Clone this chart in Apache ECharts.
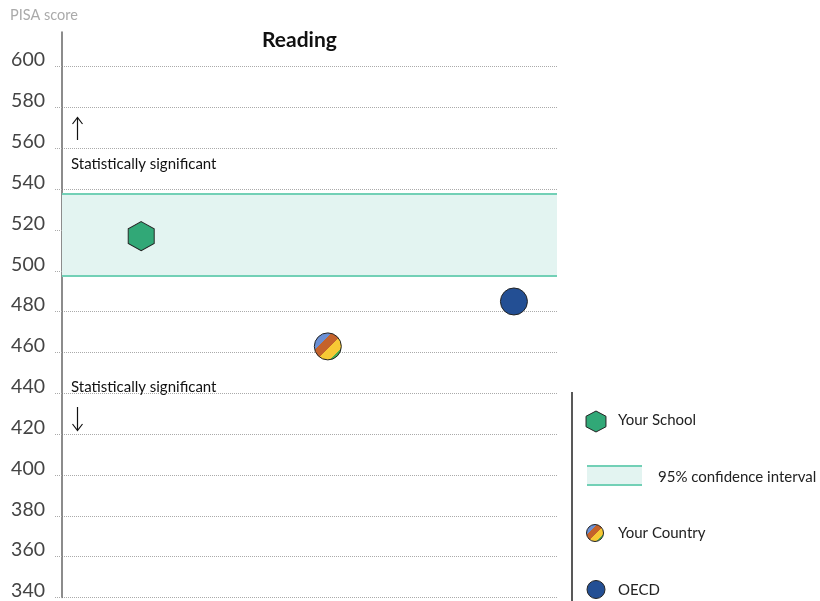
<!DOCTYPE html>
<html>
<head>
<meta charset="utf-8">
<script src="https://cdn.jsdelivr.net/npm/echarts@6/dist/echarts.min.js"></script>
<style>
  html, body { margin: 0; padding: 0; background: #fff; }
  #chart { width: 820px; height: 601px; }
</style>
</head>
<body>
<div id="chart"></div>
<script>
(function () {
  // 数据
  var names = ["Your School", "Your Country", "OECD"];
  var scores = [517, 463, 485];
  var xPos = [1.6, 5.37, 9.13];
  var ciLow = 497.5;
  var ciHigh = 538;
  var yTicks = [340, 360, 380, 400, 420, 440, 460, 480, 500, 520, 540, 560, 580, 600];

  var hexPath = "path://M0,-1L0.866,-0.5L0.866,0.5L0,1L-0.866,0.5L-0.866,-0.5Z";
  // 条纹圆点用硬边渐变
  var stripes = {
    type: "linear", x: 0, y: 0, x2: 1, y2: 1,
    colorStops: [
      { offset: 0, color: "#6b8fd3" }, { offset: 0.32, color: "#6b8fd3" },
      { offset: 0.32, color: "#c4622b" }, { offset: 0.54, color: "#c4622b" },
      { offset: 0.54, color: "#f7c935" }, { offset: 0.77, color: "#f7c935" },
      { offset: 0.77, color: "#4daf4e" }, { offset: 1, color: "#4daf4e" }
    ]
  };
  var styles = [
    { symbol: hexPath, size: [26, 29], color: "#31a877" },
    { symbol: "circle", size: 27, color: stripes },
    { symbol: "circle", size: 27, color: "#234f94" }
  ];

  var font = "Lato, 'Noto Sans', sans-serif";
  var chart = echarts.init(document.getElementById("chart"));

  var series = names.map(function (n, i) {
    return {
      name: n,
      type: "scatter",
      symbol: styles[i].symbol,
      symbolSize: styles[i].size,
      z: 5,
      itemStyle: { color: styles[i].color, borderColor: "#222", borderWidth: 1, opacity: 1 },
      data: [[xPos[i], scores[i]]]
    };
  });

  // 置信区间
  series.push({
    name: "95% confidence interval",
    type: "line",
    data: [],
    markArea: {
      silent: true,
      itemStyle: { color: "#e3f4f1" },
      data: [[{ yAxis: ciLow }, { yAxis: ciHigh }]]
    },
    markLine: {
      silent: true,
      symbol: "none",
      label: { show: false },
      lineStyle: { color: "#72d0b6", width: 2, type: "solid" },
      data: [{ yAxis: ciLow }, { yAxis: ciHigh }]
    }
  });

  function legendText(t) {
    return { text: t, fontFamily: font, fontSize: 15, fill: "#222" };
  }
  // 图例六边形顶点
  var hexPts = [];
  for (var k = 0; k < 6; k++) {
    var a = Math.PI / 3 * k - Math.PI / 2;
    hexPts.push([596 + 11.5 * Math.cos(a), 421.5 + 10.5 * Math.sin(a)]);
  }
  var arrowStyle = { stroke: "#111", lineWidth: 1.2, fill: null };

  var option = {
    animation: false,
    title: [
      { text: "Reading", left: 262, top: 30, padding: 0, textStyle: { fontFamily: font, fontSize: 21, fontWeight: "bold", color: "#111" } },
      { text: "PISA score", left: 10, top: 8, padding: 0, textStyle: { fontFamily: font, fontSize: 14.5, fontWeight: "normal", color: "#aaa" } }
    ],
    grid: { left: 62, right: 263, top: 32, bottom: 0 },
    xAxis: {
      type: "value", min: 0, max: 10,
      axisLine: { show: false }, axisTick: { show: false },
      axisLabel: { show: false }, splitLine: { show: false }
    },
    yAxis: {
      type: "value", min: 340, max: 617, interval: 20,
      axisLine: { show: true, lineStyle: { color: "#666", width: 1.5 } },
      axisTick: { show: true, length: 7, customValues: yTicks, lineStyle: { color: "#aaa", type: "dotted" } },
      axisLabel: {
        customValues: yTicks, margin: 17, fontFamily: font, fontSize: 19.5, color: "#444",
        verticalAlign: "bottom", lineHeight: 13
      },
      splitLine: { show: true, lineStyle: { color: "#aaa", type: "dotted" } }
    },
    series: series,
    graphic: [
      { type: "text", x: 71, y: 157, style: { text: "Statistically significant", fontFamily: font, fontSize: 15, fill: "#111" } },
      { type: "text", x: 71, y: 380, style: { text: "Statistically significant", fontFamily: font, fontSize: 15, fill: "#111" } },
      // 箭头
      { type: "line", shape: { x1: 77.5, y1: 118, x2: 77.5, y2: 140 }, style: arrowStyle },
      { type: "polyline", shape: { points: [[72.5, 124], [77.5, 117.5], [82.5, 124]] }, style: arrowStyle },
      { type: "line", shape: { x1: 77.5, y1: 407, x2: 77.5, y2: 430 }, style: arrowStyle },
      { type: "polyline", shape: { points: [[72.5, 424], [77.5, 430.5], [82.5, 424]] }, style: arrowStyle },
      // 图例
      { type: "line", shape: { x1: 572, y1: 392, x2: 572, y2: 601 }, style: { stroke: "#222", lineWidth: 1.5 } },
      { type: "polygon", shape: { points: hexPts }, style: { fill: "#31a877", stroke: "#222", lineWidth: 1 } },
      { type: "text", x: 618, y: 413, style: legendText(names[0]) },
      { type: "rect", shape: { x: 587, y: 466, width: 55, height: 19 }, style: { fill: "#e3f4f1" } },
      { type: "line", shape: { x1: 587, y1: 466, x2: 642, y2: 466 }, style: { stroke: "#72d0b6", lineWidth: 2 } },
      { type: "line", shape: { x1: 587, y1: 485, x2: 642, y2: 485 }, style: { stroke: "#72d0b6", lineWidth: 2 } },
      { type: "text", x: 658, y: 470, style: legendText("95% confidence interval") },
      { type: "circle", shape: { cx: 595, cy: 533, r: 8.5 }, style: { fill: stripes, stroke: "#222", lineWidth: 1 } },
      { type: "text", x: 618, y: 526, style: legendText(names[1]) },
      { type: "circle", shape: { cx: 596, cy: 589.5, r: 9 }, style: { fill: "#234f94", stroke: "#222", lineWidth: 1 } },
      { type: "text", x: 618, y: 583, style: legendText(names[2]) }
    ]
  };
  chart.setOption(option);
})();
</script>
</body>
</html>
